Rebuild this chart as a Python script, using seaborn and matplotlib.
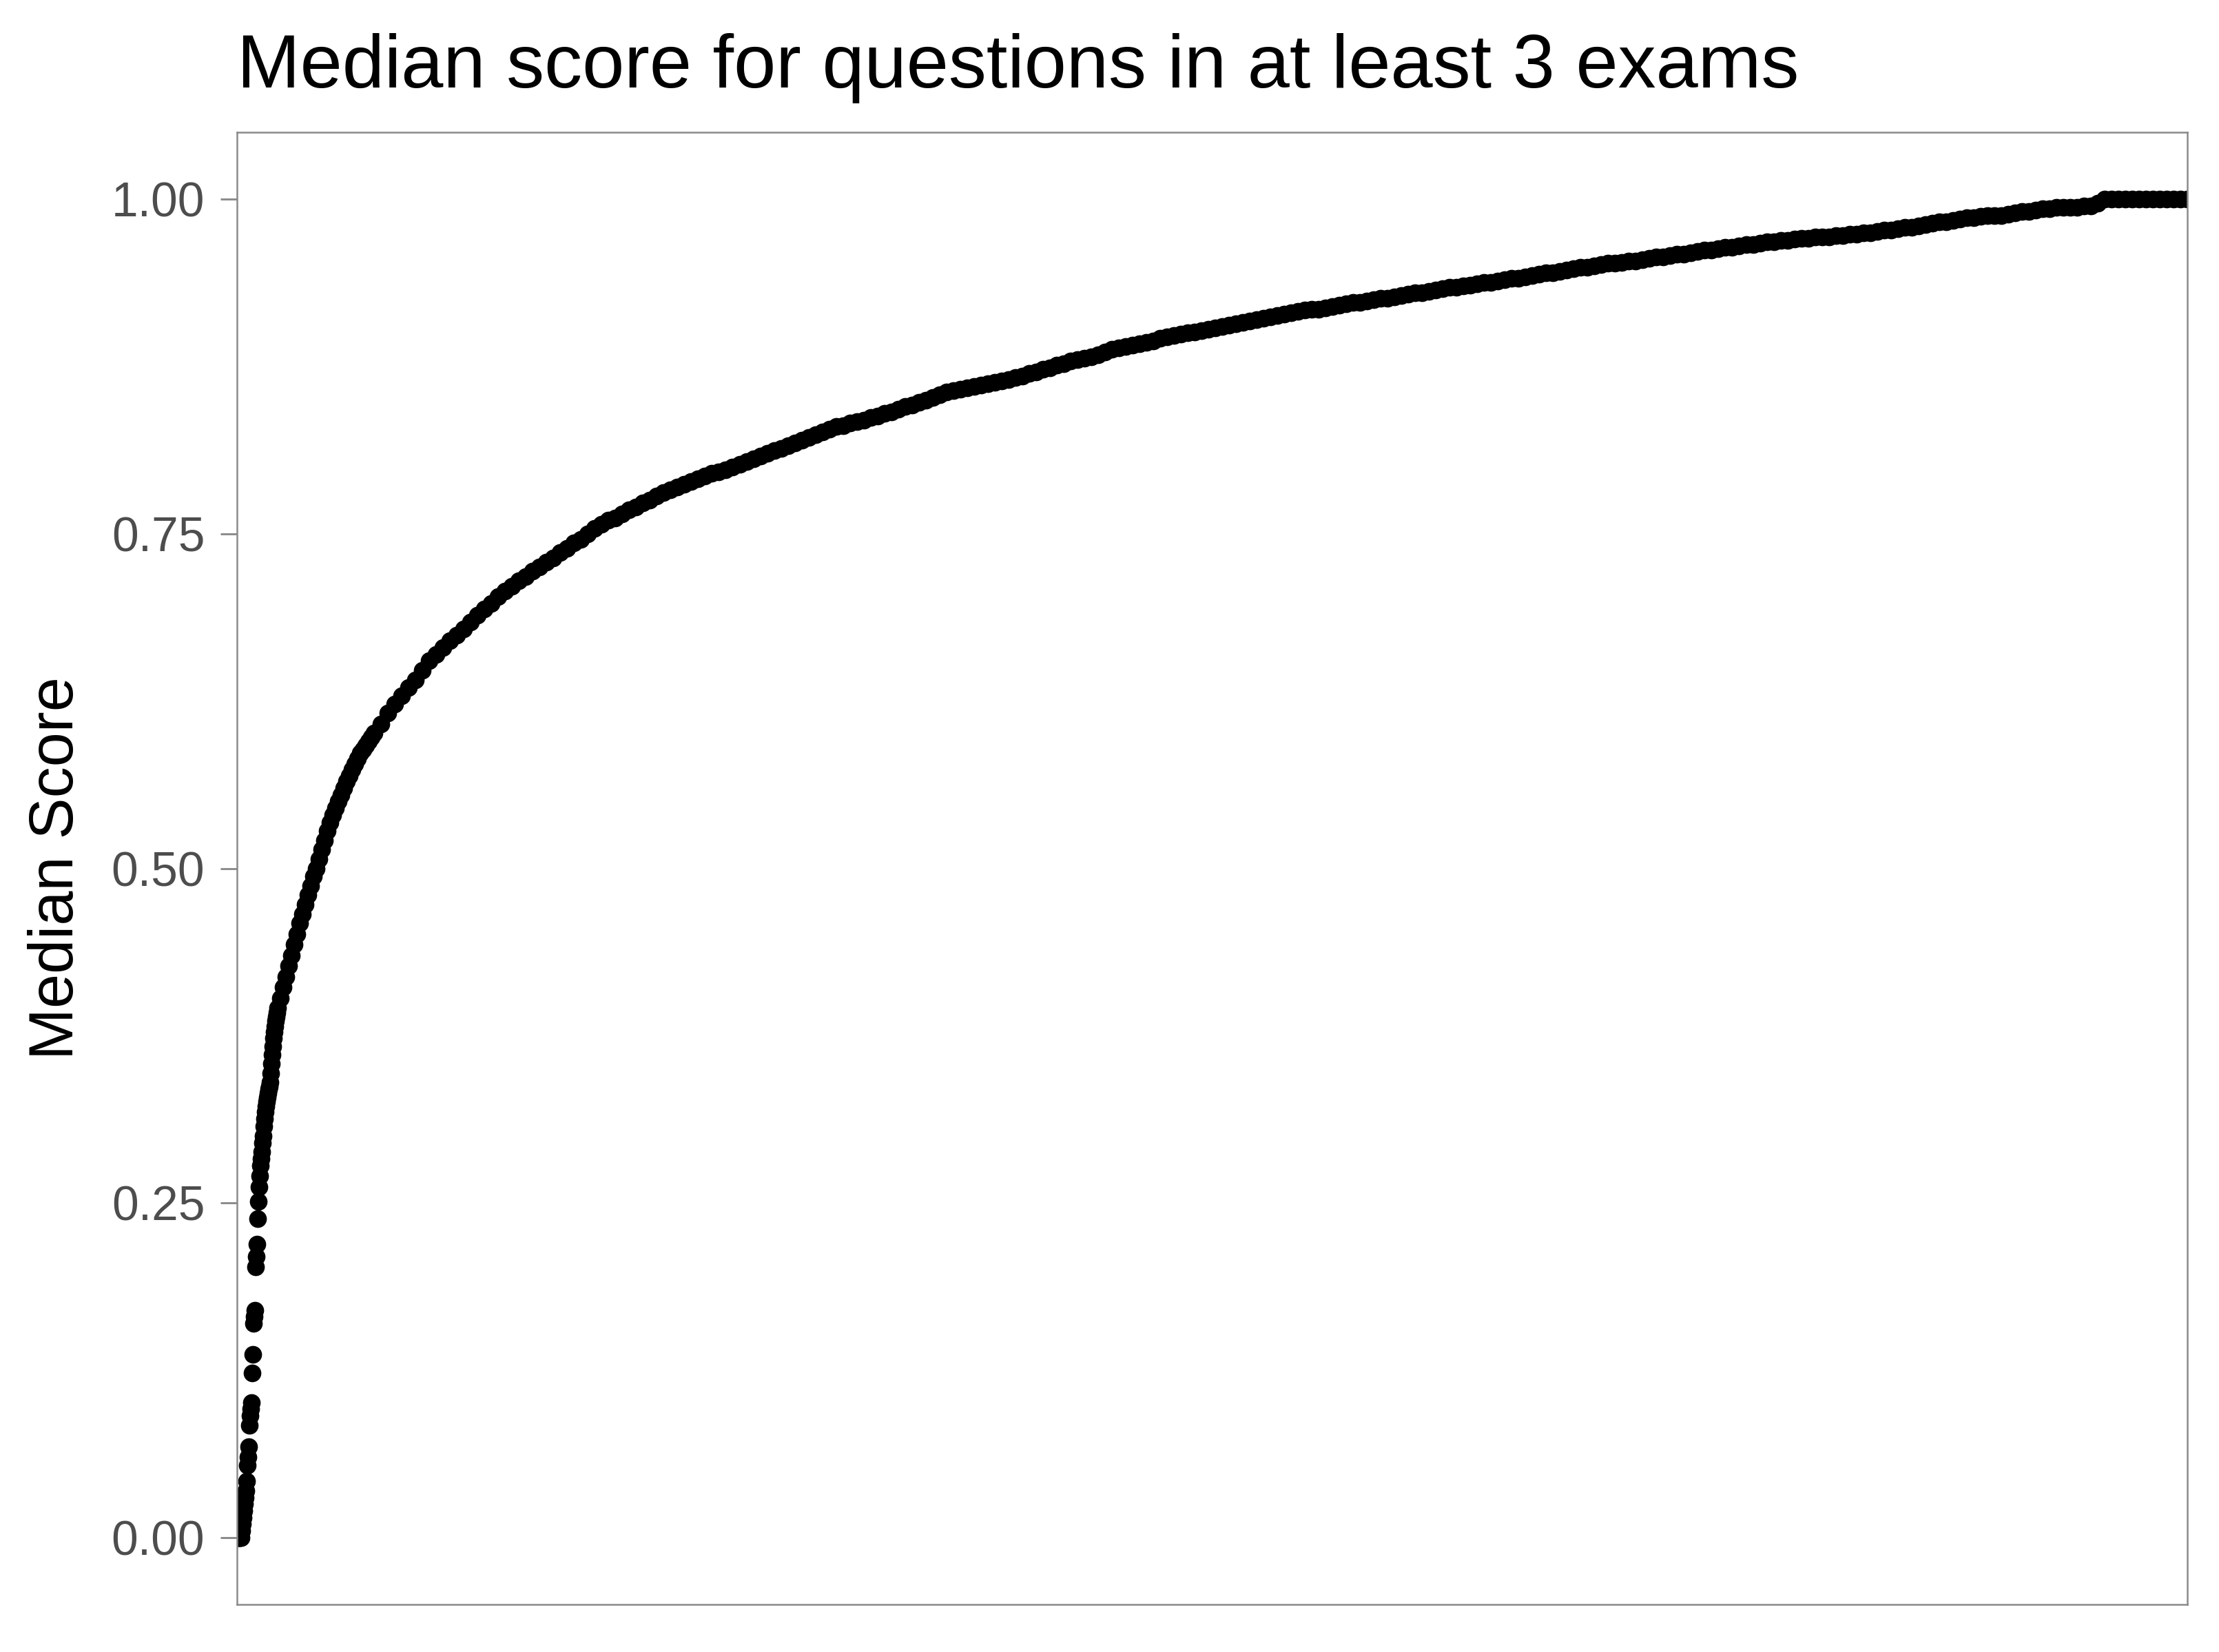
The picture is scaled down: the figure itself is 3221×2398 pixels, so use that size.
import numpy as np
import pandas as pd
import matplotlib
matplotlib.use("Agg")
import matplotlib.pyplot as plt
import seaborn as sns

# Median score per question, sorted ascending
# First questions, one per rank (the steep start of the curve)
steep_scores = [
    0, 0, 0, 0, 0, 0, 0, 0.005, 0.01, 0.015,
    0.02, 0.025, 0.03, 0.035, 0.042, 0.054, 0.06, 0.068, 0.084, 0.091,
    0.096, 0.101, 0.123, 0.137, 0.16, 0.165, 0.17, 0.202, 0.21, 0.219,
    0.238, 0.251, 0.262, 0.27, 0.278, 0.283, 0.288, 0.295, 0.30, 0.307,
    0.313, 0.318, 0.322, 0.326, 0.329, 0.332, 0.335, 0.337, 0.340, 0.347,
    0.354, 0.361, 0.367, 0.373, 0.378, 0.382, 0.386, 0.389, 0.392, 0.396,
]
# then every 4th question
mid_scores = [
    0.403, 0.411, 0.419, 0.427, 0.435, 0.443, 0.451, 0.459, 0.466, 0.473,
    0.480, 0.487, 0.494, 0.500, 0.507, 0.514, 0.521, 0.528, 0.534, 0.540,
    0.545, 0.550, 0.555, 0.560, 0.565, 0.569, 0.574, 0.578, 0.582, 0.586,
    0.589, 0.592, 0.595, 0.598, 0.601,
]
# then every 10th question up to the last one
tail_scores = [
    0.608, 0.616, 0.623, 0.629, 0.635, 0.641, 0.648, 0.655, 0.660, 0.665,
    0.670, 0.674, 0.679, 0.684, 0.689, 0.694, 0.698, 0.703, 0.707, 0.711,
    0.715, 0.718, 0.722, 0.725, 0.729, 0.732, 0.736, 0.739, 0.743, 0.746,
    0.750, 0.754, 0.757, 0.760, 0.762, 0.765, 0.768, 0.770, 0.773, 0.775,
    0.778, 0.781, 0.783, 0.785, 0.787, 0.789, 0.791, 0.793, 0.795, 0.796,
    0.798, 0.800, 0.802, 0.804, 0.806, 0.808, 0.810, 0.812, 0.814, 0.816,
    0.818, 0.820, 0.822, 0.824, 0.826, 0.828, 0.830, 0.831, 0.833, 0.834,
    0.835, 0.837, 0.838, 0.840, 0.841, 0.843, 0.845, 0.846, 0.848, 0.850,
    0.852, 0.854, 0.856, 0.857, 0.858, 0.859, 0.860, 0.861, 0.862, 0.863,
    0.864, 0.865, 0.867, 0.868, 0.870, 0.871, 0.873, 0.874, 0.876, 0.877,
    0.879, 0.880, 0.881, 0.882, 0.884, 0.886, 0.888, 0.889, 0.890, 0.891,
    0.892, 0.893, 0.894, 0.896, 0.897, 0.898, 0.899, 0.900, 0.901, 0.902,
    0.903, 0.904, 0.905, 0.906, 0.907, 0.908, 0.909, 0.910, 0.911, 0.912,
    0.913, 0.914, 0.915, 0.916, 0.917, 0.918, 0.918, 0.919, 0.920, 0.921,
    0.922, 0.923, 0.923, 0.924, 0.925, 0.926, 0.926, 0.927, 0.928, 0.929,
    0.930, 0.930, 0.931, 0.932, 0.933, 0.934, 0.934, 0.935, 0.936, 0.937,
    0.938, 0.938, 0.939, 0.940, 0.941, 0.941, 0.942, 0.943, 0.944, 0.945,
    0.945, 0.946, 0.947, 0.948, 0.949, 0.949, 0.950, 0.951, 0.952, 0.952,
    0.953, 0.954, 0.954, 0.955, 0.956, 0.957, 0.957, 0.958, 0.959, 0.959,
    0.960, 0.961, 0.962, 0.962, 0.963, 0.964, 0.964, 0.965, 0.966, 0.966,
    0.967, 0.968, 0.968, 0.969, 0.969, 0.970, 0.971, 0.971, 0.972, 0.972,
    0.972, 0.973, 0.973, 0.974, 0.974, 0.975, 0.975, 0.976, 0.977, 0.977,
    0.978, 0.979, 0.979, 0.980, 0.981, 0.982, 0.983, 0.983, 0.984, 0.985,
    0.986, 0.986, 0.987, 0.988, 0.988, 0.988, 0.989, 0.990, 0.991, 0.991,
    0.992, 0.993, 0.993, 0.994, 0.994, 0.994, 0.994, 0.995, 0.995, 0.997,
    1.0, 1.0, 1.0, 1.0, 1.0, 1.0, 1.0, 1.0, 1.0, 1.0,
    1.0, 1.0, 1.0,
]

y_ticks = [0.0, 0.25, 0.50, 0.75, 1.00]
y_tick_labels = ["0.00", "0.25", "0.50", "0.75", "1.00"]

TITLE = "Median score for questions in at least 3 exams"
Y_LABEL = "Median Score"


def build_data():
    """Put the sorted scores together with their question rank."""
    steep_rank = np.arange(1, len(steep_scores) + 1)
    mid_rank = steep_rank[-1] + 4 * np.arange(1, len(mid_scores) + 1)
    tail_rank = mid_rank[-1] + 10 * np.arange(1, len(tail_scores) + 1)
    return pd.DataFrame({
        "rank": np.concatenate([steep_rank, mid_rank, tail_rank]),
        "score": steep_scores + mid_scores + tail_scores,
    })


def plot(df):
    sns.set_theme(style="white")
    plt.rcParams["font.family"] = ["Liberation Sans", "DejaVu Sans"]

    fig = plt.figure(figsize=(3221 / 300, 2398 / 300), dpi=300)
    ax = fig.add_axes([0.1068, 0.0288, 0.8789, 0.8911])

    sns.scatterplot(data=df, x="rank", y="score", color="black",
                    s=38, linewidth=0, ax=ax, legend=False)

    ax.set_xlim(df["rank"].min(), df["rank"].max())
    ax.set_ylim(-0.05, 1.05)
    ax.set_xticks([])
    ax.set_yticks(y_ticks)
    ax.set_yticklabels(y_tick_labels)
    ax.tick_params(axis="y", length=5.7, width=0.7, color="#8a8a8a",
                   labelsize=16.7, labelcolor="#4d4d4d", pad=5.5, left=True)
    ax.set_xlabel("")
    ax.set_ylabel(Y_LABEL, fontsize=21.6, color="black")
    ax.yaxis.label.set_va("center")
    ax.yaxis.set_label_coords(-0.0925, 0.5)

    for side in ax.spines.values():
        side.set_visible(True)
        side.set_color("#8a8a8a")
        side.set_linewidth(0.6)

    fig.text(0.1068, 0.947, TITLE, fontsize=26.4, color="black",
             ha="left", va="baseline")

    fig.savefig("out.png", dpi=300)


def main():
    df = build_data()
    plot(df)


if __name__ == "__main__":
    main()
